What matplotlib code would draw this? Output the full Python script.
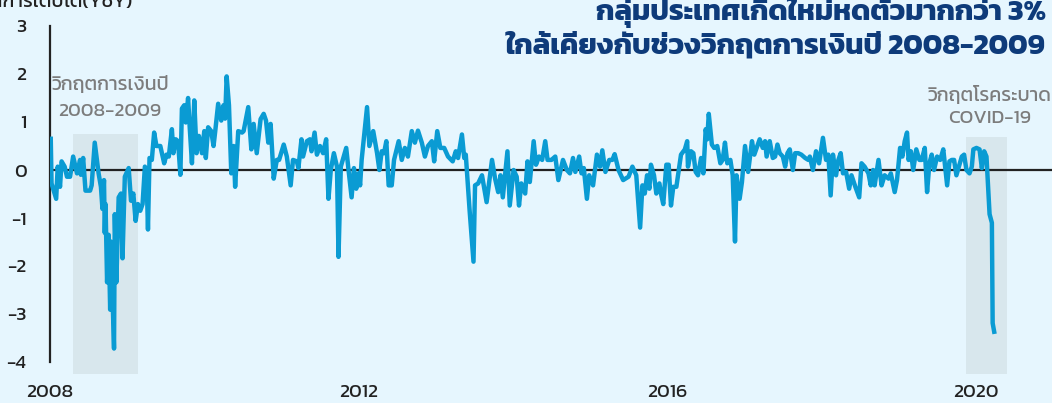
import matplotlib
matplotlib.use("Agg")
import matplotlib.pyplot as plt
import numpy as np

plt.rcParams['font.family'] = ['Kanit', 'DejaVu Sans']

# ข้อมูล (ปีแบบทศนิยม, %YoY) อ่านจากกราฟ
t_2008 = [2008.01, 2008.02, 2008.08, 2008.10, 2008.13, 2008.15, 2008.19, 2008.22, 2008.26, 2008.30,
          2008.35, 2008.39, 2008.40, 2008.43, 2008.46, 2008.52, 2008.54, 2008.58, 2008.63, 2008.66,
          2008.68, 2008.70, 2008.71, 2008.72, 2008.74, 2008.76, 2008.78, 2008.79, 2008.83, 2008.84,
          2008.86, 2008.89, 2008.92, 2008.94, 2008.97, 2009.02, 2009.05, 2009.08, 2009.11, 2009.14,
          2009.17, 2009.20, 2009.23, 2009.25, 2009.27, 2009.29, 2009.32, 2009.35, 2009.38, 2009.43,
          2009.48, 2009.51, 2009.54, 2009.58, 2009.60, 2009.63, 2009.66, 2009.69, 2009.71, 2009.74,
          2009.76, 2009.79, 2009.81, 2009.84, 2009.87, 2009.90, 2009.93, 2009.97]
v_2008 = [0.65, -0.28, -0.6, 0.07, -0.35, 0.18, 0.07, -0.14, -0.14, 0.28,
          -0.07, 0.21, -0.1, 0.25, -0.43, -0.43, -0.32, 0.57, -0.07, -0.35,
          -0.81, -0.21, -1.31, -0.71, -2.34, -1.35, -2.91, -1.49, -3.72, -0.92,
          -2.34, -0.57, -0.49, -1.84, -0.14, 0.04, -0.64, -0.49, -1.06, -0.71,
          -0.85, -0.71, 0.07, 0.0, -1.24, 0.25, 0.21, 0.78, 0.5, 0.5,
          0.14, 0.32, 0.28, 0.85, 0.35, 0.64, 0.6, -0.1, 1.28, 1.35,
          0.99, 1.5, 0.92, 0.14, 1.45, 0.35, 0.71, 0.35]

t_2010 = [2010.00, 2010.02, 2010.05, 2010.09, 2010.12, 2010.14, 2010.18, 2010.22, 2010.25, 2010.27,
          2010.29, 2010.32, 2010.35, 2010.38, 2010.40, 2010.44, 2010.49, 2010.51, 2010.57, 2010.61,
          2010.64, 2010.68, 2010.73, 2010.77, 2010.80, 2010.83, 2010.86, 2010.90, 2010.94, 2010.97,
          2011.03, 2011.07, 2011.12, 2011.15, 2011.20, 2011.22, 2011.26, 2011.28, 2011.33, 2011.37,
          2011.39, 2011.43, 2011.46, 2011.50, 2011.54, 2011.58, 2011.61, 2011.64, 2011.68, 2011.72,
          2011.74, 2011.77, 2011.84, 2011.87, 2011.91, 2011.94, 2011.97]
v_2010 = [0.81, 0.25, 0.89, 0.81, 0.5, 0.78, 1.38, 1.03, 1.35, 1.07,
          1.95, 1.35, -0.07, 0.5, -0.35, 0.81, 0.78, 0.81, 1.31, 0.43,
          0.96, 0.35, 1.06, 1.17, 1.03, 0.57, 0.96, -0.18, 0.21, 0.21,
          0.53, 0.28, -0.32, 0.21, 0.18, 0.04, 0.64, 0.28, 0.6, 0.64,
          0.39, 0.78, 0.32, 0.5, 0.35, 0.64, -0.6, 0.0, 0.35, 0.07,
          -1.81, 0.07, 0.46, 0.0, -0.57, 0.04, -0.39]

t_2012 = [2012.00, 2012.02, 2012.04, 2012.11, 2012.14, 2012.19, 2012.24, 2012.27, 2012.30, 2012.33,
          2012.36, 2012.39, 2012.43, 2012.46, 2012.52, 2012.56, 2012.60, 2012.64, 2012.69, 2012.73,
          2012.77, 2012.82, 2012.86, 2012.90, 2012.95, 2012.98, 2013.02, 2013.06, 2013.11, 2013.16,
          2013.22, 2013.26, 2013.29, 2013.34, 2013.37, 2013.39, 2013.44, 2013.49, 2013.51, 2013.55,
          2013.60, 2013.66, 2013.73, 2013.77, 2013.81, 2013.84, 2013.87, 2013.93, 2013.96]
v_2012 = [-0.07, -0.32, 0.21, 1.31, 0.5, 0.81, 0.35, 0.0, 0.39, 0.35,
          0.6, -0.32, -0.32, 0.21, 0.6, 0.21, 0.46, 0.28, 0.81, 0.57,
          0.82, 0.57, 0.28, 0.5, 0.6, 0.18, 0.81, 0.46, 0.46, 0.28,
          0.18, 0.39, 0.25, 0.74, 0.25, 0.32, -0.85, -1.91, -0.32, -0.28,
          -0.11, -0.67, 0.21, -0.18, -0.46, -0.11, -0.57, 0.39, -0.74]

t_2014 = [2014.01, 2014.05, 2014.08, 2014.11, 2014.16, 2014.19, 2014.22, 2014.27, 2014.30, 2014.34,
          2014.38, 2014.42, 2014.45, 2014.50, 2014.55, 2014.59, 2014.62, 2014.65, 2014.70, 2014.74,
          2014.78, 2014.81, 2014.86, 2014.89, 2014.92, 2014.96, 2014.99, 2015.04, 2015.09, 2015.13,
          2015.16, 2015.20, 2015.25, 2015.29, 2015.32, 2015.37, 2015.43, 2015.50, 2015.55, 2015.60,
          2015.65, 2015.68, 2015.71, 2015.74, 2015.77, 2015.79, 2015.83, 2015.86, 2015.90, 2015.92,
          2015.95, 2015.99]
v_2014 = [0.0, -0.14, -0.74, -0.28, -0.49, 0.18, -0.25, 0.6, 0.11, 0.28,
          0.21, 0.6, 0.21, 0.21, 0.28, -0.21, 0.0, 0.21, 0.0, -0.07,
          0.25, -0.04, 0.28, -0.07, 0.04, -0.6, -0.11, -0.32, 0.32, 0.07,
          0.41, -0.04, 0.21, 0.21, 0.33, 0.0, -0.21, -0.14, 0.07, -0.11,
          -1.2, -0.32, -0.49, -0.11, -0.39, 0.11, -0.11, -0.49, -0.28, -0.49,
          -0.71, 0.11]

t_2016 = [2016.02, 2016.05, 2016.08, 2016.12, 2016.18, 2016.23, 2016.26, 2016.27, 2016.31, 2016.34,
          2016.37, 2016.40, 2016.44, 2016.47, 2016.50, 2016.52, 2016.54, 2016.58, 2016.61, 2016.65,
          2016.69, 2016.72, 2016.75, 2016.78, 2016.82, 2016.85, 2016.88, 2016.90, 2016.94, 2016.97,
          2017.01, 2017.05, 2017.10, 2017.13, 2017.16, 2017.20, 2017.24, 2017.27, 2017.29, 2017.33,
          2017.37, 2017.40, 2017.43, 2017.46, 2017.50, 2017.53, 2017.56, 2017.59, 2017.63, 2017.66,
          2017.70, 2017.74, 2017.79, 2017.83, 2017.85, 2017.89, 2017.93, 2017.97]
v_2016 = [0.11, -0.74, -0.35, -0.35, 0.32, 0.43, 0.6, 0.07, 0.39, 0.35,
          -0.04, -0.11, 0.25, -0.07, 0.85, 0.64, 1.17, 0.53, 0.46, 0.5,
          0.14, 0.21, 0.57, 0.14, 0.21, -0.11, -1.49, -0.11, -0.6, -0.25,
          0.5, -0.04, 0.6, 0.32, 0.46, 0.64, 0.46, 0.6, 0.28, 0.6,
          0.25, 0.28, 0.53, 0.35, 0.28, 0.07, 0.35, 0.43, 0.0, 0.35,
          0.35, 0.32, 0.25, 0.21, 0.28, 0.0, 0.39, 0.14]

t_2018 = [2018.02, 2018.06, 2018.09, 2018.12, 2018.15, 2018.19, 2018.22, 2018.25, 2018.28, 2018.32,
          2018.36, 2018.39, 2018.44, 2018.49, 2018.52, 2018.56, 2018.61, 2018.64, 2018.67, 2018.69,
          2018.74, 2018.78, 2018.82, 2018.87, 2018.90, 2018.95, 2018.98, 2019.02, 2019.05, 2019.08,
          2019.11, 2019.13, 2019.16, 2019.19, 2019.23, 2019.27, 2019.30, 2019.34, 2019.37, 2019.40,
          2019.43, 2019.46, 2019.50, 2019.54, 2019.58, 2019.63, 2019.66, 2019.69, 2019.72, 2019.75,
          2019.79, 2019.82, 2019.85, 2019.88, 2019.92, 2019.95, 2019.97]
v_2018 = [0.67, 0.21, 0.32, -0.53, 0.32, -0.11, 0.21, 0.35, -0.07, -0.04,
          -0.39, -0.11, -0.35, -0.57, 0.14, 0.07, -0.07, -0.32, 0.0, -0.32,
          0.21, -0.32, -0.11, -0.18, -0.07, -0.46, -0.21, 0.46, 0.28, 0.6,
          0.78, 0.21, 0.39, 0.0, 0.43, 0.21, 0.21, 0.46, -0.46, 0.14,
          0.32, 0.0, 0.28, 0.21, 0.43, -0.32, 0.18, 0.21, 0.21, -0.11,
          0.11, 0.28, 0.32, 0.0, -0.07, 0.07, 0.43]

t_2020 = [2020.01, 2020.05, 2020.08, 2020.11, 2020.14, 2020.18, 2020.21, 2020.22, 2020.24]
v_2020 = [0.46, 0.43, 0.04, 0.39, 0.28, -0.92, -1.1, -3.19, -3.37]

years = t_2008 + t_2010 + t_2012 + t_2014 + t_2016 + t_2018 + t_2020
values = v_2008 + v_2010 + v_2012 + v_2014 + v_2016 + v_2018 + v_2020

x_ticks = [2008, 2012, 2016, 2020]
crisis_gfc = (2008.30, 2009.14)
crisis_covid = (2019.87, 2020.40)

BG = '#e6f6fe'
LINE = '#0a9bd3'
NAVY = '#0e3b7a'
SHADE = '#d8e7ed'
GREY = '#7c7c7c'

fig = plt.figure(figsize=(10.52, 4.03), dpi=100, facecolor=BG)
ax = fig.add_axes([50 / 1052, 1 - 374 / 403, 1 - 50 / 1052, 348 / 403])
ax.set_facecolor(BG)

ax.set_xlim(2008, 2008 + 1002 / 77.14)
ax.set_ylim(-4.25, 3)

# ช่วงวิกฤต
ax.axvspan(crisis_gfc[0], crisis_gfc[1], ymin=0.0, ymax=(0.75 + 4.25) / 7.25,
           color=SHADE, zorder=0, lw=0)
ax.axvspan(crisis_covid[0], crisis_covid[1], ymin=0.0, ymax=(0.69 + 4.25) / 7.25,
           color=SHADE, zorder=0, lw=0)

ax.axhline(0, color='#222222', lw=1.6, zorder=1)
ax.plot(years, values, color=LINE, lw=3.2, zorder=3, solid_joinstyle='round')

for s in ['top', 'right', 'bottom']:
    ax.spines[s].set_visible(False)
ax.spines['left'].set_bounds(-4, 3)
ax.spines['left'].set_linewidth(1.6)
ax.spines['left'].set_color('#222222')

ax.set_yticks(range(-4, 4))
ax.set_yticklabels([str(i) for i in range(-4, 4)])
ax.set_xticks(x_ticks)
ax.set_xticklabels([str(x) for x in x_ticks])
ax.tick_params(axis='y', length=0, pad=17, labelsize=14, labelcolor='#222222')
ax.tick_params(axis='x', length=0, pad=7, labelsize=14, labelcolor='#222222')

# ป้ายช่วงวิกฤต (แยกบรรทัด)
ax.text(2008.78, 1.77, 'วิกฤตการเงินปี', ha='center', va='center', fontsize=14, color=GREY)
ax.text(2008.78, 1.21, '2008-2009', ha='center', va='center', fontsize=14, color=GREY)
ax.text(2020.18, 1.56, 'วิกฤตโรคระบาด', ha='center', va='center', fontsize=14, color=GREY)
ax.text(2020.18, 1.08, 'COVID-19', ha='center', va='center', fontsize=14, color=GREY)

fig.text(1046 / 1052, 1 - 12 / 403, 'กลุ่มประเทศเกิดใหม่หดตัวมากกว่า 3%',
         ha='right', va='center', fontsize=21, fontweight='bold', color=NAVY)
fig.text(1046 / 1052, 1 - 46 / 403, 'ใกล้เคียงกับช่วงวิกฤตการเงินปี 2008-2009',
         ha='right', va='center', fontsize=21, fontweight='bold', color=NAVY)
fig.text(132 / 1052, 1 - 3 / 403, 'อัตราการเติบโต(YoY)', ha='right', va='center',
         fontsize=14, color='#222222')

fig.savefig('out.png', dpi=100, facecolor=BG)
